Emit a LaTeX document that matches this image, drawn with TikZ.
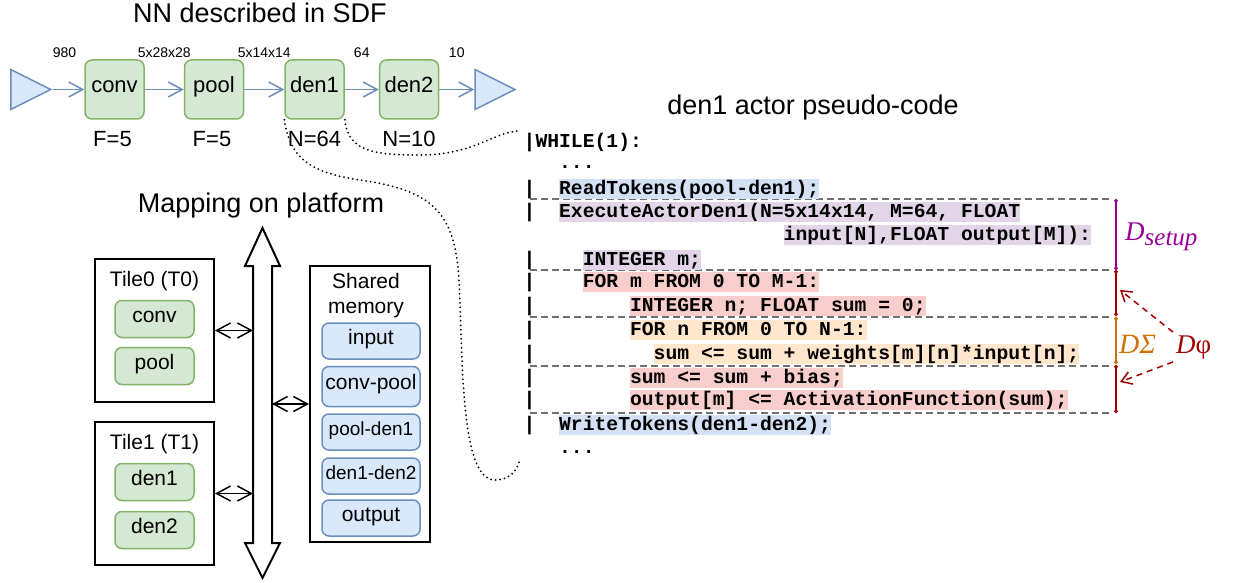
\documentclass[tikz,border=0pt]{standalone}
\usepackage{fontspec}
\setmainfont{Liberation Sans}
\setmonofont{Liberation Mono}
\newfontfamily\dfont{Liberation Serif}
\usepackage{tikz}
\usetikzlibrary{arrows.meta,positioning,shapes.geometric}

\definecolor{actfill}{HTML}{D5E8D4}
\definecolor{actline}{HTML}{82B366}
\definecolor{buffill}{HTML}{DAE8FC}
\definecolor{bufline}{HTML}{6C8EBF}
\definecolor{hlblue}{HTML}{D4E1F5}
\definecolor{hlpurple}{HTML}{E1D5E7}
\definecolor{hlred}{HTML}{F8CECC}
\definecolor{hlorange}{HTML}{FFE6CC}
\definecolor{setuppurple}{HTML}{990099}
\definecolor{phired}{HTML}{A00000}
\definecolor{sigmaorange}{HTML}{D07000}
\definecolor{sepgray}{HTML}{707070}

\newcommand{\codefont}{\ttfamily\bfseries\fontsize{19.7}{24}\selectfont}
\newcommand{\codex}[1]{523.5+11.82*#1}

\begin{document}
\begin{tikzpicture}[
    x=1pt, y=-1pt,
    >={Straight Barb[length=14pt,width=15pt]},
    font=\fontsize{21}{25}\selectfont,
    title/.style={
		anchor=base,
		inner sep=0pt,
		font=\fontsize{27}{30}\selectfont
	},
    actor/.style={
		rectangle,
		rounded corners=7pt,
		draw=actline,
		fill=actfill,
		line width=1.5pt,
		inner sep=0pt,
		text height=1.5ex,
		text depth=.25ex
	},
	sdfactor/.style={
		actor,
		minimum width=59pt,
		minimum height=59pt,
		font=\fontsize{22}{26}\selectfont
	},
	pe/.style={
		actor,
		minimum width=79pt,
		minimum height=37pt
	},
	buf/.style={
		actor,
		draw=bufline,
		fill=buffill,
		minimum width=98pt,
		minimum height=36pt
	},
	port/.style={
		isosceles triangle,
		isosceles triangle stretches,
		minimum width=40pt,
		minimum height=40pt,
		inner sep=0pt,
		draw=bufline,
		fill=buffill,
		line width=1.5pt
	},
	tile/.style={
		rectangle,
		draw=black,
		fill=white,
		line width=2pt
	},
	flow/.style={
		draw=bufline,
		line width=1.5pt,
		->
	},
	num/.style={
		midway,
		yshift=37pt,
		inner sep=0pt,
		font=\fontsize{14}{16}\selectfont
	},
	lbl/.style={
		inner sep=0pt,
		text height=1.5ex,
		text depth=.25ex,
		font=\fontsize{22}{26}\selectfont
	},
	code/.style={
		anchor=base west,
		inner sep=0pt,
		font=\codefont
	},
	hl/.style={
		code,
		text height=15.5pt,
		text depth=5pt
	},
	sep/.style={
		draw=sepgray,
		line width=1.5pt,
		dash pattern=on 7pt off 4pt
	},
	dotline/.style={
		line width=2pt,
		line cap=round,
		dash pattern=on 0pt off 4.5pt
	},
	dlbl/.style={
		anchor=base west,
		inner sep=3pt,
		font=\dfont\fontsize{27}{27}\selectfont
	},
	phiarrow/.style={
		draw=phired,
		line width=1.5pt,
		dash pattern=on 6pt off 5pt,
		-{Straight Barb[length=10pt,width=13pt]}
	}
  ]
\useasboundingbox (0,0) rectangle (1234,583);

% // NN described in SDF
\node [title] (sdftitle) at (260,22.5) {NN described in SDF};

\node [port, anchor=west] (src) at (10,89.5) {};
\node [sdfactor] (conv) at (114.5,89.5) {conv};
\node [sdfactor, right=39pt of conv] (pool) {pool};
\node [sdfactor, right=40pt of pool] (den1) {den1};
\node [sdfactor, right=34pt of den1] (den2) {den2};
\node [port, right=35pt of den2] (sink) {};

\draw [flow] (src.east) -- node [num, xshift=-4pt] (r0) {980} (conv.west);
\draw [flow] (conv) -- node [num] (r1) {5x28x28} (pool);
\draw [flow] (pool) -- node [num] (r2) {5x14x14} (den1);
\draw [flow] (den1) -- node [num] (r3) {64} (den2);
\draw [flow] (den2) -- node [num] (r4) {10} (sink.west);

\node [lbl, below=19pt of conv, xshift=-2pt] (fconv) {F=5};
\node [lbl, below=19pt of pool, xshift=-2pt] (fpool) {F=5};
\node [lbl, below=19pt of den1] (nden1) {N=64};
\node [lbl, below=19pt of den2] (nden2) {N=10};

% // Mapping on platform
\node [title] (maptitle) at (261,212) {Mapping on platform};

\draw [tile] (262.5,228) -- (280,266) -- (272,266) -- (272,543) -- (280,543)
  -- (262.5,578) -- (245,543) -- (253,543) -- (253,266) -- (245,266) -- cycle;
\coordinate (busl) at (253,400);
\coordinate (busr) at (272,400);

\node [tile, minimum width=119pt, minimum height=143pt] (tile0) at (154.5,330.5) {};
\node [anchor=base, inner sep=0pt] (tile0name) at (154.5,286) {Tile0 (T0)};
\node [pe] (mconv) at (154.5,319) {conv};
\node [pe] (mpool) at (154.5,366) {pool};

\node [tile, minimum width=119pt, minimum height=143pt] (tile1) at (154.5,493.5) {};
\node [anchor=base, inner sep=0pt] (tile1name) at (154.5,449) {Tile1 (T1)};
\node [pe] (mden1) at (154.5,482) {den1};
\node [pe] (mden2) at (154.5,530) {den2};

\node [tile, minimum width=120pt, minimum height=276pt] (shmem) at (370,404) {};
\node [anchor=north, align=center, inner sep=0pt] (shmemname) at (366,273.5) {Shared\\memory};
\node [buf] (binput) at (371,341) {input};
\node [buf, minimum height=40pt] (bconvpool) at (371,386.5) {conv-pool};
\node [buf, font=\fontsize{19}{22}\selectfont] (bpoolden1) at (371,432) {pool-den1};
\node [buf, font=\fontsize{19}{22}\selectfont] (bden1den2) at (371,476) {den1-den2};
\node [buf] (boutput) at (371,518) {output};

\draw [<->, line width=1.5pt] (tile0.east) -- (tile0.east -| busl);
\draw [<->, line width=1.5pt] (tile1.east) -- (tile1.east -| busl);
\draw [<->, line width=1.5pt] (shmem.west -| busr) -- (shmem.west);

% // den1 actor pseudo-code
\node [title] (codetitle) at (813,115) {den1 actor pseudo-code};

\foreach \y in {199,270,317,366,413}
  \draw [sep] (530,\y) -- (1110,\y);

\node [code] (while) at ({\codex{0}},147) {|WHILE(1):};
\node [code] (dotsa) at ({\codex{3}},168) {...};
\foreach \y/\n in {194/a,217/b,265/c,287/d,311/e,335/f,359/g,383/h,405/i,430/j}
  \node [code] (bar\n) at ({\codex{0}},\y) {|};

\node [hl, fill=hlblue] (readtok) at ({\codex{3}},194) {ReadTokens(pool-den1);};
\node [hl, fill=hlpurple] (exec) at ({\codex{3}},217) {ExecuteActorDen1(N=5x14x14, M=64, FLOAT};
\node [hl, fill=hlpurple] (execargs) at ({\codex{22}},240) {input[N],FLOAT output[M]):};
\node [hl, fill=hlpurple] (intm) at ({\codex{5}},265) {INTEGER m;};
\node [hl, fill=hlred] (form) at ({\codex{5}},287) {FOR m FROM 0 TO M-1:};
\node [hl, fill=hlred] (intn) at ({\codex{9}},311) {INTEGER n; FLOAT sum = 0;};
\node [hl, fill=hlorange] (forn) at ({\codex{9}},335) {FOR n FROM 0 TO N-1:};
\node [hl, fill=hlorange] (acc) at ({\codex{11}},359) {sum <= sum + weights[m][n]*input[n];};
\node [hl, fill=hlred] (bias) at ({\codex{9}},383) {sum <= sum + bias;};
\node [hl, fill=hlred] (actf) at ({\codex{9}},405) {output[m] <= ActivationFunction(sum);};
\node [hl, fill=hlblue] (writetok) at ({\codex{3}},430) {WriteTokens(den1-den2);};
\node [code] (dotsb) at ({\codex{3}},453) {...};

% // delays
\draw [setuppurple, line width=2pt, {Circle[length=3.5pt]}-{Circle[length=3.5pt]}] (1116,199) -- (1116,270);
\draw [phired, line width=2pt, {Circle[length=3.5pt]}-{Circle[length=3.5pt]}] (1116,270) -- (1116,316);
\draw [sigmaorange, line width=2pt, {Circle[length=3.5pt]}-{Circle[length=3.5pt]}] (1116,317) -- (1116,364);
\draw [phired, line width=2pt, {Circle[length=3.5pt]}-{Circle[length=3.5pt]}] (1116,365) -- (1116,413);

\node [dlbl, text=setuppurple] (dsetup) at (1122,240) {\itshape D\raisebox{-5pt}{\fontsize{25}{25}\selectfont setup}};
\node [dlbl, text=sigmaorange, font=\dfont\fontsize{28}{28}\selectfont] (dsigma) at (1116,353) {\itshape DΣ};
\node [dlbl, text=phired] (dphi) at (1173,353) {{\itshape D}φ};

\coordinate (phitop) at (1120,290);
\coordinate (phibot) at (1120,382);
\draw [phiarrow] (dphi.north west) -- (phitop);
\draw [phiarrow] (dphi.south west) -- (phibot);

% // links from den1 to the code
\coordinate (codein) at (520,131);
\coordinate (codeout) at (520,458);
\draw [dotline] (den1.south east) .. controls (348,152) and (375,155) .. (420,155)
  .. controls (475,155) and (495,131) .. (codein);
\draw [dotline] (den1.south west) .. controls (290,155) and (305,172) .. (360,180)
  .. controls (430,190) and (455,210) .. (459,280)
  .. controls (463,360) and (460,480) .. (495,480)
  .. controls (510,480) and (518,470) .. (codeout);

\end{tikzpicture}
\end{document}
